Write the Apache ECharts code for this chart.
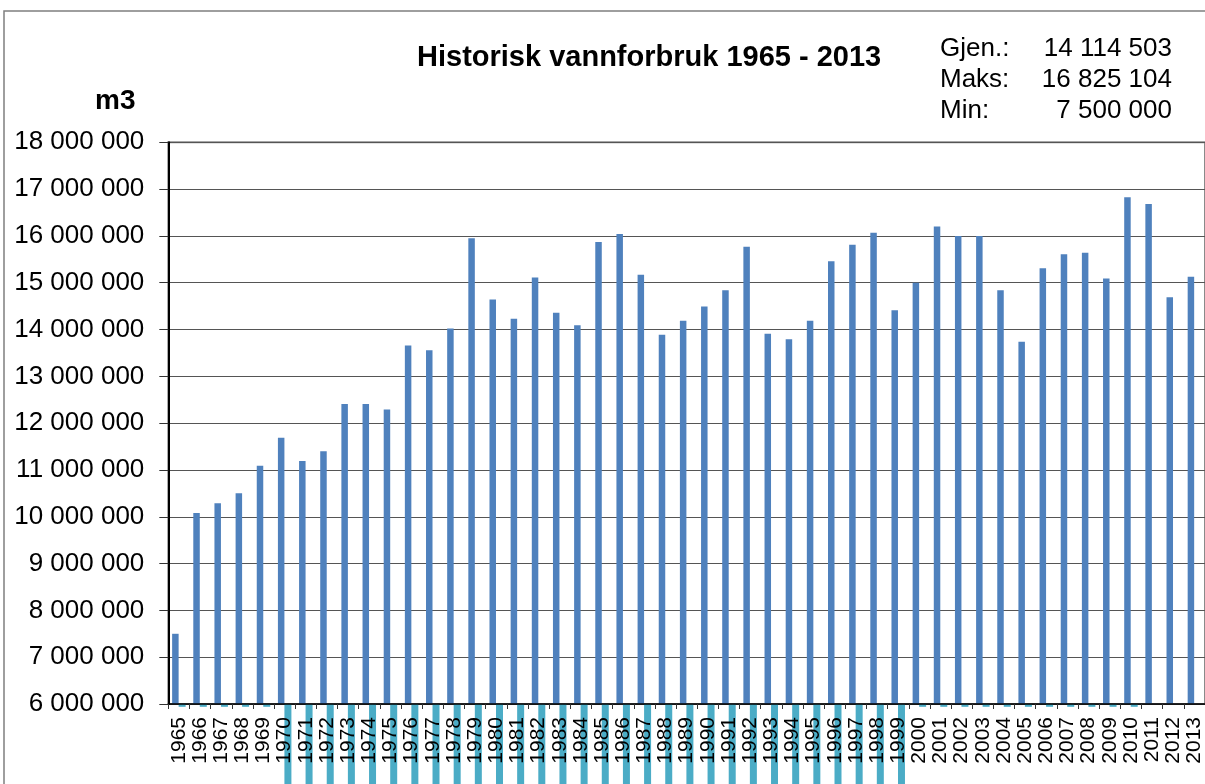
<!DOCTYPE html>
<html>
<head>
<meta charset="utf-8">
<title>Historisk vannforbruk</title>
<script src="https://cdn.jsdelivr.net/npm/echarts@6/dist/echarts.min.js"></script>
<style>
html, body { margin: 0; padding: 0; background: #fff; }
#chart { width: 1205px; height: 784px; }
</style>
</head>
<body>
<div id="chart"></div>
<script>
// årstall (kategorier)
var aar = ['1965','1966','1967','1968','1969','1970','1971','1972','1973','1974',
	'1975','1976','1977','1978','1979','1980','1981','1982','1983','1984',
	'1985','1986','1987','1988','1989','1990','1991','1992','1993','1994',
	'1995','1996','1997','1998','1999','2000','2001','2002','2003','2004',
	'2005','2006','2007','2008','2009','2010','2011','2012','2013'];

// vannforbruk m3 (blå søyler, lest av bildet)
var forbruk = [7500000, 10080000, 10290000, 10500000, 11090000, 11690000, 11190000, 11400000, 12410000, 12410000,
	12290000, 13660000, 13560000, 14020000, 15950000, 14640000, 14230000, 15110000, 14360000, 14090000,
	15870000, 16040000, 15170000, 13890000, 14190000, 14490000, 14840000, 15770000, 13910000, 13790000,
	14190000, 15460000, 15810000, 16070000, 14410000, 15000000, 16200000, 16000000, 16000000, 14840000,
	13740000, 15310000, 15610000, 15640000, 15090000, 16825104, 16680000, 14690000, 15130000];

// andre serie (turkis), verdier under aksens minimum; null = ingen søyle
var serie2 = [5940000, 5940000, 5940000, 5940000, 5940000, 4000000, 4000000, 4000000, 4000000, 4000000,
	4000000, 4000000, 4000000, 4000000, 4000000, 4000000, 4000000, 4000000, 4000000, 4000000,
	4000000, 4000000, 4000000, 4000000, 4000000, 4000000, 4000000, 4000000, 4000000, 4000000,
	4000000, 4000000, 4000000, 4000000, 4000000, 5940000, 5940000, 5940000, 5940000, 5940000,
	5940000, 5940000, 5940000, 5940000, 5940000, 5940000, null, null, null];

// nøkkeltall øverst til høyre
var statNavn = ['Gjen.:', 'Maks:', 'Min:'];
var statVerdi = ['14 114 503', '16 825 104', '7 500 000'];

var yMin = 6000000;
var yMax = 18000000;
var yStep = 1000000;

function fmtTall(v) {
	// tusenskille med mellomrom
	return String(v).replace(/\B(?=(\d{3})+(?!\d))/g, ' ');
}

var font = 'Liberation Sans, Arial, sans-serif';
var chart = echarts.init(document.getElementById('chart'));

var statGraphics = [];
for (var i = 0; i < statNavn.length; i++) {
	statGraphics.push({
		type: 'text', left: 940, top: 36 + i * 31,
		style: { text: statNavn[i], font: '26px ' + font, fill: '#000' }
	});
	statGraphics.push({
		type: 'text', right: 33, top: 36 + i * 31,
		style: { text: statVerdi[i], font: '26px ' + font, fill: '#000', textAlign: 'right' }
	});
}

var option = {
	animation: false,
	backgroundColor: '#fff',
	grid: {
		left: 168.3,
		top: 142.3,
		width: 1045.7,
		height: 561.7,
		show: true,
		borderColor: '#8a8a8a',
		borderWidth: 2,
		containLabel: false
	},
	xAxis: {
		type: 'category',
		data: aar,
		z: 10,
		axisLine: { lineStyle: { color: '#000', width: 1.5 } },
		axisTick: { show: true, length: 5, lineStyle: { color: '#333' } },
		axisLabel: {
			interval: 0, rotate: 90, margin: 13, overflow: 'none',
			fontSize: 21, fontFamily: font, color: '#000'
		},
		splitLine: { show: false }
	},
	yAxis: [{
		type: 'value',
		min: yMin, max: yMax, interval: yStep,
		axisLine: { show: true, lineStyle: { color: '#000', width: 2 } },
		axisTick: { show: true, length: 9, lineStyle: { color: '#333' } },
		axisLabel: {
			margin: 24, fontSize: 26, fontFamily: font, color: '#000',
			formatter: fmtTall
		},
		splitLine: { lineStyle: { color: '#555', width: 1.2 } }
	}, {
		// skjult hjelpeakse: samme skala, men null ligger på 6 000 000
		type: 'value',
		min: 0, max: yMax - yMin, interval: yStep,
		show: false,
		splitLine: { show: false }
	}],
	series: [{
		name: 'Forbruk',
		type: 'bar',
		data: forbruk,
		barWidth: 6.5,
		barGap: '0%',
		itemStyle: { color: '#4f81bd' }
	}, {
		name: 'Serie 2',
		type: 'bar',
		yAxisIndex: 1,
		clip: false,
		data: serie2.map(function (v) { return v == null ? null : v - yMin; }),
		barWidth: 7,
		itemStyle: { color: '#4bacc6' }
	}],
	graphic: [{
		type: 'polyline',
		shape: { points: [[4, 784], [4, 11], [1205, 11]] },
		style: { stroke: '#7f7f7f', lineWidth: 1.5, fill: null }
	}, {
		type: 'text', left: 417, top: 43,
		style: { text: 'Historisk vannforbruk 1965 - 2013', font: 'bold 29px ' + font, fill: '#000' }
	}, {
		type: 'text', left: 95, top: 87,
		style: { text: 'm3', font: 'bold 28px ' + font, fill: '#000' }
	}].concat(statGraphics)
};

chart.setOption(option);
</script>
</body>
</html>
